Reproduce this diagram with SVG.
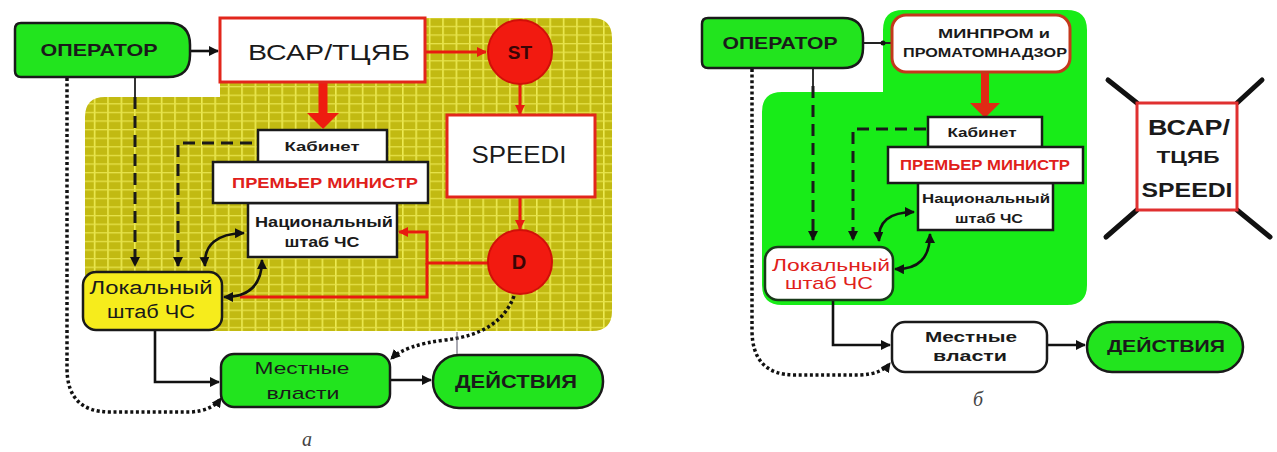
<svg xmlns="http://www.w3.org/2000/svg" width="1277" height="452" viewBox="0 0 1277 452">
<defs>
<pattern id="grid" patternUnits="userSpaceOnUse" width="13.4" height="8.6">
<rect width="13.4" height="8.6" fill="#c2ba12"/>
<rect x="0" y="0" width="1.6" height="8.6" fill="#ecea52"/>
<rect x="0" y="0" width="13.4" height="1.3" fill="#e6e24a"/>
</pattern>
<marker id="ah" viewBox="0 0 10 10" refX="9" refY="5" markerWidth="10" markerHeight="10" markerUnits="userSpaceOnUse" orient="auto-start-reverse">
<path d="M0,0 L10,5 L0,10 Z" fill="#111"/>
</marker>
<marker id="ahr" viewBox="0 0 10 10" refX="9" refY="5" markerWidth="10" markerHeight="10" markerUnits="userSpaceOnUse" orient="auto">
<path d="M0,0 L10,5 L0,10 Z" fill="#e81a10"/>
</marker>
<style>
.t{font-family:"Liberation Sans",Arial,sans-serif;text-anchor:middle;fill:#1a1a1a}
.b{font-weight:bold}
.red{fill:#e0201a}
.node{stroke:#1a1a1a;stroke-width:2.5}
.green{fill:#22e41e}
.white{fill:#ffffff}
.rbox{fill:#fff;stroke:#e2261c;stroke-width:3}
.circ{fill:#f21a10;stroke:#d01008;stroke-width:2}
.c{fill:none;stroke:#111;stroke-width:2.6}
.dash{fill:none;stroke:#1a1a1a;stroke-width:3;stroke-dasharray:12 7}
.dot{fill:none;stroke:#111;stroke-width:3.5;stroke-dasharray:3 2.6}
.rl{fill:none;stroke:#e81a10;stroke-width:3}
.cap{font-family:"Liberation Serif","Times New Roman",serif;font-style:italic;font-size:20px;fill:#444;text-anchor:middle}
</style>
</defs>

<!-- backgrounds -->
<g id="bg-a">
<path d="M105 97 H220 V38 Q220 18 240 18 H592 Q612 18 612 38 V311 Q612 331 592 331 H105 Q85 331 85 311 V117 Q85 97 105 97 Z" fill="url(#grid)"/>
</g>
<g id="bg-b">
<path d="M782 92 H883 V30 Q883 10 903 10 H1067 Q1087 10 1087 30 V285 Q1087 305 1067 305 H782 Q762 305 762 285 V112 Q762 92 782 92 Z" fill="#18ec18"/>
</g>

<!-- connectors -->
<g id="connectors">
<!-- diagram a -->
<line x1="190" y1="51" x2="218" y2="51" class="c" marker-end="url(#ah)"/>
<line x1="425" y1="52" x2="486" y2="52" class="rl" marker-end="url(#ahr)"/>
<line x1="520" y1="84" x2="520" y2="114" class="rl" marker-end="url(#ahr)"/>
<line x1="520" y1="197" x2="520" y2="229" class="rl" marker-end="url(#ahr)"/>
<path d="M323 82 V114" fill="none" stroke="#ee1c10" stroke-width="9"/>
<path d="M307 113 H339 L323 129 Z" fill="#ee1c10"/>
<path d="M488 263 H427 V232 H399" class="rl" marker-end="url(#ahr)"/>
<path d="M427 263 V297 H240" class="rl"/>
<line x1="135" y1="77" x2="135" y2="97" stroke="#333" stroke-width="2"/>
<path d="M135 97 V266" class="dash" marker-end="url(#ah)"/>
<path d="M252 143 H178 V266" class="dash" marker-end="url(#ah)"/>
<path d="M67 78 V368 Q67 412 110 412 H190 Q212 411 221 398" class="dot" marker-end="url(#ah)"/>
<path d="M205 266 Q203 234 244 233" class="c" marker-start="url(#ah)" marker-end="url(#ah)"/>
<path d="M224 297 Q262 297 262 260" class="c" marker-start="url(#ah)" marker-end="url(#ah)"/>
<path d="M155 330 V382 H219" class="c" marker-end="url(#ah)"/>
<line x1="390" y1="380" x2="431" y2="380" class="c" marker-end="url(#ah)"/>
<path d="M514 296 Q500 334 445 340 Q405 345 391 359" class="dot" marker-end="url(#ah)"/>
<line x1="457" y1="332" x2="457" y2="362" stroke="#556" stroke-width="1"/>
<!-- diagram b -->
<line x1="863" y1="43" x2="892" y2="43" stroke="#222" stroke-width="2"/>
<circle cx="883" cy="43" r="2.5" fill="#111"/>
<path d="M985 72 V104" fill="none" stroke="#e02a14" stroke-width="8"/>
<path d="M970 103 H1000 L985 118 Z" fill="#e02a14"/>
<line x1="813" y1="68" x2="813" y2="86" stroke="#333" stroke-width="2"/>
<path d="M813 86 V240" class="dash" marker-end="url(#ah)"/>
<path d="M926 129 H853 V240" class="dash" marker-end="url(#ah)"/>
<path d="M752 69 V330 Q752 375 795 375 H860 Q882 374 890 363" class="dot" marker-end="url(#ah)"/>
<path d="M879 241 Q877 212 914 212" class="c" marker-start="url(#ah)" marker-end="url(#ah)"/>
<path d="M895 269 Q930 270 930 234" class="c" marker-start="url(#ah)" marker-end="url(#ah)"/>
<path d="M833 300 V345 H890" class="c" marker-end="url(#ah)"/>
<line x1="1047" y1="345" x2="1085" y2="345" class="c" marker-end="url(#ah)"/>
</g>

<!-- nodes diagram a -->
<g id="operator-a">
<path d="M21 23 H168 Q190 23 190 45 V55 Q190 77 168 77 H21 Q15 77 15 71 V29 Q15 23 21 23 Z" class="node green"/>
<text x="99" y="56" class="t b" font-size="17" textLength="117" lengthAdjust="spacingAndGlyphs">ОПЕРАТОР</text>
</g>
<g id="vsar-a">
<rect x="220" y="18" width="205" height="64" class="rbox"/>
<text x="329" y="60" class="t" font-size="22" textLength="162" lengthAdjust="spacingAndGlyphs">ВСАР/ТЦЯБ</text>
</g>
<g id="st-a">
<circle cx="520" cy="52" r="32" class="circ"/>
<text x="520" y="59" class="t b" font-size="19" style="fill:#3a0505">ST</text>
</g>
<g id="speedi-a">
<rect x="447" y="115" width="148" height="82" class="rbox"/>
<text x="519" y="163" class="t" font-size="24" textLength="95" lengthAdjust="spacingAndGlyphs">SPEEDI</text>
</g>
<g id="d-a">
<circle cx="520" cy="262" r="32" class="circ"/>
<text x="519" y="269" class="t b" font-size="20" style="fill:#3a0505">D</text>
</g>
<g id="cabinet-a">
<rect x="258" y="130" width="129" height="32" class="node white"/>
<text x="322" y="151" class="t b" font-size="13" textLength="75" lengthAdjust="spacingAndGlyphs">Кабинет</text>
</g>
<g id="national-a">
<rect x="248" y="203" width="149" height="54" class="node white"/>
<text x="324" y="227" class="t b" font-size="14" textLength="138" lengthAdjust="spacingAndGlyphs">Национальный</text>
<text x="322" y="247" class="t b" font-size="14" textLength="75" lengthAdjust="spacingAndGlyphs">штаб ЧС</text>
</g>
<g id="pm-a">
<rect x="213" y="162" width="215" height="41" class="node white"/>
<text x="325" y="188" class="t b red" font-size="14" textLength="186" lengthAdjust="spacingAndGlyphs">ПРЕМЬЕР МИНИСТР</text>
</g>
<g id="local-a">
<rect x="83" y="272" width="139" height="58" rx="13" class="node" fill="#f6ec1c"/>
<text x="151" y="294" class="t" font-size="18" textLength="123" lengthAdjust="spacingAndGlyphs">Локальный</text>
<text x="151" y="318" class="t" font-size="18" textLength="88" lengthAdjust="spacingAndGlyphs">штаб ЧС</text>
</g>
<g id="mestnye-a">
<rect x="221" y="354" width="169" height="53" rx="13" class="node green"/>
<text x="302" y="374" class="t" font-size="17" textLength="95" lengthAdjust="spacingAndGlyphs">Местные</text>
<text x="303" y="399" class="t" font-size="17" textLength="73" lengthAdjust="spacingAndGlyphs">власти</text>
</g>
<g id="deistviya-a">
<rect x="433" y="355" width="170" height="53" rx="26" class="node green"/>
<text x="516" y="388" class="t b" font-size="18" textLength="122" lengthAdjust="spacingAndGlyphs">ДЕЙСТВИЯ</text>
</g>
<text x="307" y="446" class="cap">а</text>

<!-- nodes diagram b -->
<g id="operator-b">
<path d="M708 18 H843 Q863 18 863 38 V48 Q863 68 843 68 H708 Q702 68 702 62 V24 Q702 18 708 18 Z" class="node green"/>
<text x="780" y="49" class="t b" font-size="17" textLength="115" lengthAdjust="spacingAndGlyphs">ОПЕРАТОР</text>
</g>
<g id="minprom-b">
<rect x="892" y="15" width="178" height="57" rx="14" fill="#fff" stroke="#c4381c" stroke-width="3"/>
<text x="994" y="38" class="t b" font-size="13" textLength="112" lengthAdjust="spacingAndGlyphs">МИНПРОМ и</text>
<text x="985" y="57" class="t b" font-size="13" textLength="164" lengthAdjust="spacingAndGlyphs">ПРОМАТОМНАДЗОР</text>
</g>
<g id="cabinet-b">
<rect x="928" y="117" width="114" height="30" class="node white"/>
<text x="982" y="137" class="t b" font-size="13" textLength="69" lengthAdjust="spacingAndGlyphs">Кабинет</text>
</g>
<g id="national-b">
<rect x="918" y="183" width="135" height="47" class="node white"/>
<text x="986" y="203" class="t b" font-size="13" textLength="128" lengthAdjust="spacingAndGlyphs">Национальный</text>
<text x="989" y="223" class="t b" font-size="13" textLength="68" lengthAdjust="spacingAndGlyphs">штаб ЧС</text>
</g>
<g id="pm-b">
<rect x="888" y="147" width="195" height="36" class="node white"/>
<text x="985" y="170" class="t b red" font-size="14" textLength="170" lengthAdjust="spacingAndGlyphs">ПРЕМЬЕР МИНИСТР</text>
</g>
<g id="local-b">
<rect x="765" y="247" width="128" height="53" rx="13" fill="#fff" stroke="#1a3a1a" stroke-width="2.5"/>
<text x="831" y="271" class="t red" font-size="17" textLength="118" lengthAdjust="spacingAndGlyphs">Локальный</text>
<text x="829" y="289" class="t red" font-size="17" textLength="88" lengthAdjust="spacingAndGlyphs">штаб ЧС</text>
</g>
<g id="mestnye-b">
<rect x="892" y="322" width="155" height="50" rx="13" class="node white"/>
<text x="971" y="342" class="t b" font-size="15" textLength="92" lengthAdjust="spacingAndGlyphs">Местные</text>
<text x="970" y="361" class="t b" font-size="15" textLength="74" lengthAdjust="spacingAndGlyphs">власти</text>
</g>
<g id="deistviya-b">
<rect x="1087" y="322" width="156" height="50" rx="25" class="node green"/>
<text x="1166" y="352" class="t b" font-size="17" textLength="118" lengthAdjust="spacingAndGlyphs">ДЕЙСТВИЯ</text>
</g>
<g id="crossed-b">
<line x1="1137" y1="103" x2="1108" y2="80" stroke="#111" stroke-width="5" stroke-linecap="round"/>
<line x1="1237" y1="103" x2="1262" y2="80" stroke="#111" stroke-width="5" stroke-linecap="round"/>
<line x1="1137" y1="210" x2="1106" y2="237" stroke="#111" stroke-width="5" stroke-linecap="round"/>
<line x1="1237" y1="210" x2="1270" y2="237" stroke="#111" stroke-width="5" stroke-linecap="round"/>
<rect x="1137" y="103" width="100" height="107" fill="#fff" stroke="#e03030" stroke-width="3"/>
<text x="1189" y="135" class="t b" font-size="22" textLength="82" lengthAdjust="spacingAndGlyphs">ВСАР/</text>
<text x="1188" y="163" class="t b" font-size="16" textLength="63" lengthAdjust="spacingAndGlyphs">ТЦЯБ</text>
<text x="1187" y="197" class="t b" font-size="20" textLength="91" lengthAdjust="spacingAndGlyphs">SPEEDI</text>
</g>
<text x="978" y="406" class="cap">б</text>
</svg>
